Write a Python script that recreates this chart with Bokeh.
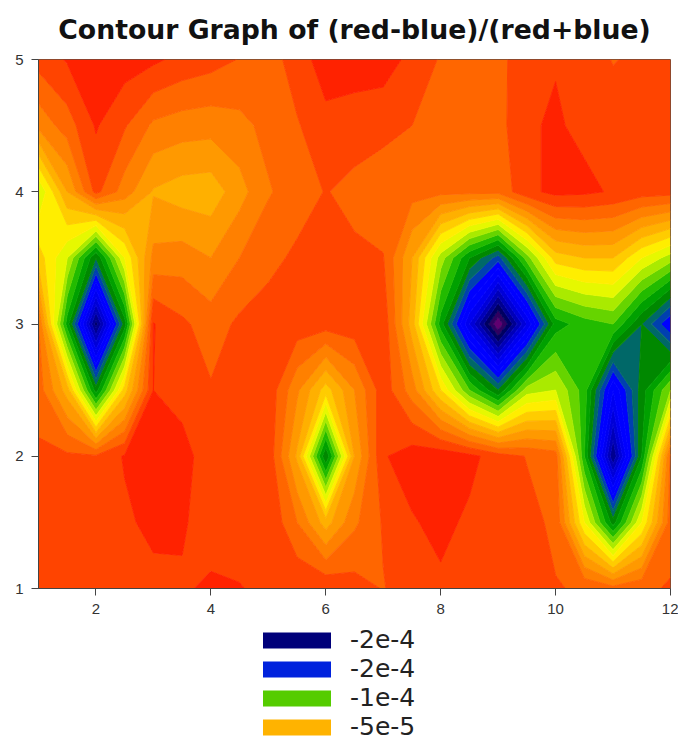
from bokeh.plotting import figure
from bokeh.embed import file_html
from bokeh.resources import INLINE
from bokeh.layouts import column
from bokeh.models import FixedTicker, Legend, LegendItem, Range1d
import numpy as np

title_text = "Contour Graph of (red-blue)/(red+blue)"
x_values = [1, 1.5, 2, 2.5, 3, 3.5, 4, 4.5, 5, 5.5, 6, 6.5, 7, 7.5, 8, 8.5, 9, 9.5, 10, 10.5, 11, 11.5, 12]
y_values = [1, 1.5, 2, 2.5, 3, 3.5, 4, 4.5, 5]
x_ticks = [2, 4, 6, 8, 10, 12]
y_ticks = [1, 2, 3, 4, 5]

# depth below zero, in units of 1e-5
row_y10 = [1.5, 1.4, 1.3, 1.3, 1.35, 1.05, .93, .98, 1.1, 1.1, 1.1, 1.6, 2.05, 1.5, 1.2, 1.3, 1.4, 1.6, 1.95, 2.1, 2.6, 2.2, 1.9]
row_y15 = [1.4, 1.3, 1.2, 1.2, .7, .95, 1.2, 1.2, 1.1, 3, 5.5, 3.2, 1.9, 1.1, .7, 1.2, 1.4, 1.7, 2.2, 8, 13.5, 8, 2.5]
row_y20 = [1.8, 1.8, 1.85, .9, .7, .8, 1.3, 1.5, 1.3, 5.2, 14, 5, 1.1, .5, .33, .7, 1.5, 2.05, 2.5, 12, 22, 13, 2.8]
row_y25 = [2.5, 5.5, 13.5, 6.5, 1.0, 1.2, 1.9, 1.5, 1.3, 3.8, 6.5, 4, 1.4, 3.5, 7, 11, 14, 9.5, 9, 11.5, 18, 13.5, 10]
row_y30 = [3, 12.5, 22.5, 13.5, .95, 1.8, 2.5, 1.8, 1.5, 1.4, 1.5, 1.4, 1.3, 5.5, 12.5, 19, 25, 19, 12.5, 11.5, 11, 14, 17]
row_y35 = [6.5, 9, 14, 8, 3.7, 3.5, 4, 3, 2.3, 1.8, 1.7, 1.8, 1.95, 5, 9.5, 13, 15.5, 10.5, 6.5, 6, 6, 8, 9.5]
row_y40 = [9, 5, 1.7, 3.5, 5.1, 5.5, 5.6, 4.4, 3.1, 2.5, 1.95, 2.3, 2.6, 2.6, 2.7, 2.7, 2.7, 1.3, .7, .8, 1.1, 1.5, 1.6]
row_y45 = [3.7, 2.5, .9, 1.9, 3.2, 3.5, 3.6, 3.3, 2.7, 2.1, 1.3, 1.5, 1.7, 2.0, 2.5, 2.6, 2.4, 1.1, .9, 1.2, 1.5, 1.6, 1.6]
row_y50 = [1.6, .9, .3, .5, .8, 1.3, 1.6, 2.05, 2.5, 1.5, .5, .5, .5, 1.3, 2.1, 2.2, 2.2, 1.6, 1.05, 1.5, 2.05, 1.8, 1.7]

levels = [-27, -24, -23, -22, -21, -20, -19, -18, -17, -16, -15, -14, -13, -12, -11,
          -10, -9, -8, -7, -6, -5, -4, -3, -2, -1, 0]
band_colors = ["#600070", "#300060", "#000060", "#000090", "#0000b8", "#0000d8", "#0000f0",
               "#0000ff", "#0000ff", "#0040b0", "#006868", "#008800", "#00a000", "#22bb00",
               "#66d400", "#aaea00", "#e6f800", "#ffee00", "#ffcc00", "#ffb000", "#ff9900",
               "#ff8000", "#ff6600", "#ff4400", "#ff2200"]
line_colors = band_colors + ["#ff2200"]

legend_labels = ["-2e-4", "-2e-4", "-1e-4", "-5e-5"]
legend_colors = ["#00007a", "#0022dd", "#55cc00", "#ffb300"]

z = -np.array([row_y10, row_y15, row_y20, row_y25, row_y30, row_y35, row_y40, row_y45, row_y50]) * 1e-5
lv = np.array(levels) * 1e-5

p = figure(width=678, height=620, output_backend="svg", toolbar_location=None,
           x_range=Range1d(1, 12), y_range=Range1d(1, 5),
           frame_width=632, frame_height=529,
           min_border_left=38, min_border_right=8, min_border_top=59, min_border_bottom=32,
           background_fill_color=None, border_fill_color=None)
p.grid.visible = False
p.title.text = title_text
p.title.text_font = "DejaVu Sans"
p.title.text_font_size = "26.7px"
p.title.text_font_style = "bold"
p.title.text_color = "#111111"
p.title.align = "center"
p.title.vertical_align = "top"
p.title.standoff = 26

p.contour(x_values, y_values, z, lv, fill_color=band_colors, line_color=line_colors, line_width=1)

p.xaxis.ticker = FixedTicker(ticks=x_ticks)
p.yaxis.ticker = FixedTicker(ticks=y_ticks)
for ax in (p.xaxis[0], p.yaxis[0]):
    ax.major_label_text_font = "Liberation Sans"
    ax.major_label_text_font_size = "15px"
    ax.major_label_text_color = "#333333"
    ax.axis_line_color = "#444444"
    ax.major_tick_line_color = "#444444"
    ax.major_tick_out = 7
    ax.major_tick_in = 0
    ax.minor_tick_line_color = None
    ax.major_label_standoff = 8
p.outline_line_color = "#6b4a3a"

q = figure(width=678, height=120, output_backend="svg", toolbar_location=None,
           x_range=Range1d(0, 1), y_range=Range1d(0, 1),
           x_axis_location=None, y_axis_location=None,
           min_border=0, outline_line_color=None,
           background_fill_color=None, border_fill_color=None)
q.grid.visible = False
items = []
for lab, col in zip(legend_labels, legend_colors):
    # the bar itself lies outside the empty frame: only its legend swatch is seen
    r = q.quad(left=[2], right=[3], top=[3], bottom=[2], fill_color=col, line_color=None)
    items.append(LegendItem(label=lab, renderers=[r]))
legend = Legend(items=items, glyph_width=85, glyph_height=20, label_text_font="DejaVu Sans",
                label_text_font_size="25px", label_text_color="#222222", label_standoff=11,
                spacing=0, padding=0, margin=0, border_line_color=None, background_fill_color=None,
                location=(216, -1))
q.add_layout(legend, "center")

open("out.html", "w").write(file_html(column(p, q, spacing=0), INLINE))
